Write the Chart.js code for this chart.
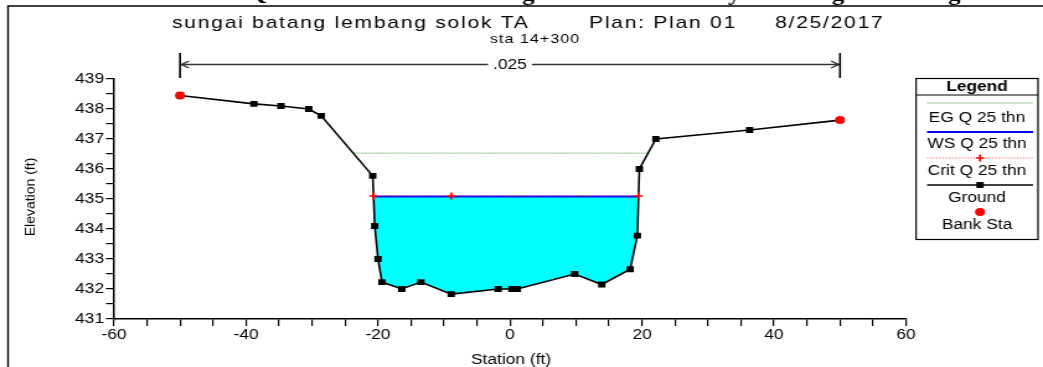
<!DOCTYPE html>
<html>
<head>
<meta charset="utf-8">
<script src="https://cdn.jsdelivr.net/npm/chart.js@4.4.1/dist/chart.umd.min.js"></script>
<style>
html,body{margin:0;padding:0;background:#fff;overflow:hidden}
#wrap{width:1043px;height:367px;overflow:hidden}
#c{display:block;transform:scaleX(1.2402);transform-origin:0 0}
</style>
</head>
<body>
<div id="wrap"><canvas id="c" width="841" height="367"></canvas></div>
<script>
// cross section sta 14+300
const groundSta = [-50, -38.8, -34.7, -30.5, -28.6, -20.8, -20.5, -20.0, -19.4, -16.4, -13.5, -8.9, -1.8, 0.3, 1.1, 9.8, 13.9, 18.2, 19.3, 19.6, 22.1, 36.3, 50.0]
const groundElev = [438.45, 438.17, 438.1, 438.0, 437.77, 435.77, 434.1, 433.0, 432.23, 432.0, 432.23, 431.83, 432.0, 432.0, 432.0, 432.5, 432.15, 432.66, 433.78, 436.0, 437.0, 437.3, 437.63]
const bankSta = [-50, 50]
const bankElev = [438.45, 437.63]
const egElev = 436.53
const wsElev = 435.08
const critElev = 435.1
const xTickLabels = [-60, -40, -20, 0, 20, 40, 60]
const yTickLabels = [431, 432, 433, 434, 435, 436, 437, 438, 439]
const manningN = ['.025']
const titleParts = ['sungai batang lembang solok TA', 'Plan: Plan 01', '8/25/2017']
const subTitle = 'sta 14+300'
const topGlyphs = ['Q', 'g', 'y', 'g', 'g']

// the reference picture is stretched sideways, so draw narrow and scale with css
const SX = 1043 / 841
const sx = v => v / SX

// where a level crosses the ground line
function crossings(elev){
    let out = []
    for(let i=0;i<groundSta.length-1;i++){
        let a = groundElev[i]-elev, b = groundElev[i+1]-elev
        if(a*b<0) out.push(groundSta[i]+(groundSta[i+1]-groundSta[i])*a/(a-b))
    }
    return out
}

const wsX = crossings(wsElev)
const egX = crossings(egElev)
const thalweg = groundSta[groundElev.indexOf(Math.min(...groundElev))]
const critX = [wsX[0], thalweg, wsX[wsX.length-1]]

const pts = (xs, ys) => xs.map((x,i)=>({x:x, y:Array.isArray(ys)?ys[i]:ys}))
const water = [{x:wsX[0], y:wsElev}]
    .concat(pts(groundSta, groundElev).filter(p => p.x>wsX[0] && p.x<wsX[1]))
    .concat([{x:wsX[1], y:wsElev}])

const FONT = '"Liberation Sans", Arial, sans-serif'

function drawMark(ctx, d, x, y){
    ctx.save()
    ctx.fillStyle = d.pointBackgroundColor || d.pointBorderColor || '#000'
    ctx.strokeStyle = d.pointBorderColor || '#000'
    ctx.lineWidth = d.pointBorderWidth || 0
    Chart.helpers.drawPoint(ctx, {pointStyle: d.pointStyle, radius: d.pointRadius, rotation: 0, borderWidth: d.pointBorderWidth || 0}, x, y)
    ctx.restore()
}

const decor = {
    id: 'decor',
    afterDraw(chart){
        const ctx = chart.ctx
        const xs = chart.scales.x
        ctx.save()
        // cut caption above the frame
        ctx.fillStyle = '#000'
        ctx.font = 'bold 20px "Liberation Serif", serif'
        ctx.textBaseline = 'alphabetic'
        ;[248, 522, 728, 832, 948].forEach((x,i)=>ctx.fillText(topGlyphs[i], sx(x), 0))

        // frame
        ctx.strokeStyle = '#000'
        ctx.lineWidth = 1.4
        ctx.beginPath()
        ctx.moveTo(sx(8), 367); ctx.lineTo(sx(8), 6); ctx.lineTo(841, 6)
        ctx.stroke()

        // title
        ctx.font = '17px '+FONT
        ctx.textAlign = 'left'
        ctx.letterSpacing = '1.4px'
        ctx.fillText(titleParts[0], sx(172), 28)
        ctx.fillText(titleParts[1], sx(589), 28)
        ctx.fillText(titleParts[2], sx(775), 28)
        ctx.font = '13px '+FONT
        ctx.letterSpacing = '0.8px'
        ctx.textAlign = 'center'
        ctx.fillText(subTitle, sx(535), 43)
        ctx.letterSpacing = '0px'

        // n value dimension line
        const xl = xs.getPixelForValue(bankSta[0]), xr = xs.getPixelForValue(bankSta[1])
        const yd = 64.5
        ctx.strokeStyle = '#333'
        ctx.lineWidth = 1.3
        ctx.beginPath()
        ctx.moveTo(xl, yd); ctx.lineTo(xr, yd)
        ctx.moveTo(xl+sx(9), yd-3.5); ctx.lineTo(xl+1, yd); ctx.lineTo(xl+sx(9), yd+3.5)
        ctx.moveTo(xr-sx(9), yd-3.5); ctx.lineTo(xr-1, yd); ctx.lineTo(xr-sx(9), yd+3.5)
        ctx.stroke()
        ctx.strokeStyle = '#000'
        ctx.lineWidth = 1.6
        ctx.beginPath()
        ctx.moveTo(xl, 53); ctx.lineTo(xl, 78)
        ctx.moveTo(xr, 53); ctx.lineTo(xr, 78)
        ctx.stroke()
        ctx.font = '14px '+FONT
        const xm = xs.getPixelForValue(0)
        const tw = ctx.measureText(manningN[0]).width
        ctx.fillStyle = '#fff'
        ctx.fillRect(xm-tw/2-4, yd-6, tw+8, 12)
        ctx.fillStyle = '#000'
        ctx.textBaseline = 'middle'
        ctx.fillText(manningN[0], xm, yd+0.5)

        // axis titles
        ctx.fillText('Station (ft)', sx(511), 360)
        ctx.save()
        ctx.translate(sx(30.5), 197)
        ctx.scale(1/SX, 1)
        ctx.rotate(-Math.PI/2)
        ctx.fillText('Elevation (ft)', 0, 0)
        ctx.restore()

        // legend box
        const bx1 = sx(916), bx2 = sx(1038), lx1 = sx(927), lx2 = sx(1033), mx = sx(980), tx = sx(977)
        ctx.strokeStyle = '#000'
        ctx.lineWidth = 1.2
        ctx.strokeRect(bx1, 78.5, bx2-bx1, 161)
        ctx.beginPath(); ctx.moveTo(bx1, 95); ctx.lineTo(bx2, 95); ctx.stroke()
        ctx.font = 'bold 14px '+FONT
        ctx.fillText('Legend', tx, 87)
        ctx.font = '14px '+FONT
        const ds = chart.data.datasets
        const byLabel = l => ds.find(d => d.label === l)
        const rows = [
            {d: byLabel('EG Q 25 thn'), ly: 103, ty: 118},
            {d: byLabel('WS Q 25 thn'), ly: 132, ty: 144.5},
            {d: byLabel('Crit Q 25 thn'), ly: 158, ty: 171},
            {d: byLabel('Ground'), ly: 185, ty: 198},
            {d: byLabel('Bank Sta'), ly: 212, ty: 225}
        ]
        rows.forEach(r => {
            const d = r.d
            if(d.showLine){
                ctx.save()
                ctx.strokeStyle = d.borderColor
                ctx.lineWidth = d.borderWidth
                ctx.setLineDash(d.borderDash || [])
                ctx.beginPath(); ctx.moveTo(lx1, r.ly); ctx.lineTo(lx2, r.ly); ctx.stroke()
                ctx.restore()
            }
            if(d.pointRadius > 0) drawMark(ctx, d, mx, r.ly)
            ctx.fillStyle = '#000'
            ctx.fillText(d.label, tx, r.ty)
        })
        ctx.restore()
    }
}

const tickFont = {family: FONT, size: 14}

new Chart(document.getElementById('c'), {
    type: 'scatter',
    data: {
        datasets: [
            {
                label: 'Bank Sta', data: pts(bankSta, bankElev), showLine: false,
                pointStyle: 'circle', pointRadius: 4, pointBackgroundColor: '#ff0000',
                pointBorderColor: '#ff0000', pointBorderWidth: 0, backgroundColor: '#ff0000', borderColor: '#ff0000', order: 0
            },
            {
                label: 'Crit Q 25 thn', data: pts(critX, critElev), showLine: true,
                borderColor: '#ff5050', borderWidth: 1, borderDash: [1, 1.5], pointStyle: 'cross',
                pointRadius: 3.4, pointBorderColor: '#ff0000', pointBorderWidth: 1.7, backgroundColor: '#ff0000', order: 1
            },
            {
                label: 'Ground', data: pts(groundSta, groundElev), showLine: true,
                borderColor: '#000', borderWidth: 1.6, pointStyle: 'rect', pointRadius: 4.2,
                pointBackgroundColor: '#000', pointBorderColor: '#000', pointBorderWidth: 0, backgroundColor: '#000', order: 2
            },
            {
                label: 'WS Q 25 thn', data: pts(wsX, wsElev), showLine: true,
                borderColor: '#0000ff', borderWidth: 2, pointRadius: 0, order: 3
            },
            {
                label: 'EG Q 25 thn', data: pts(egX, egElev), showLine: true,
                borderColor: '#3f9a3f', borderWidth: 1, borderDash: [1, 1], pointRadius: 0, order: 4
            },
            {
                label: 'water', data: water, showLine: true, borderWidth: 0, pointRadius: 0,
                backgroundColor: '#00ffff', fill: {value: wsElev}, order: 5
            }
        ]
    },
    options: {
        responsive: false,
        animation: false,
        devicePixelRatio: 1,
        layout: {padding: {top: 79, right: 841 - sx(906), left: 0, bottom: 0}},
        plugins: {legend: {display: false}, tooltip: {enabled: false}},
        scales: {
            x: {
                type: 'linear', min: -60, max: 60,
                afterFit: s => { s.height = 48 },
                border: {color: '#000', width: 1.5},
                grid: {drawOnChartArea: false, drawTicks: true, tickLength: 7, color: '#000', lineWidth: 1.2},
                ticks: {stepSize: 5, autoSkip: false, maxRotation: 0, color: '#000', font: tickFont, padding: 1,
                    callback: v => xTickLabels.includes(v) ? v : ''}
            },
            y: {
                type: 'linear', min: 431, max: 439,
                afterFit: s => { s.width = sx(114) },
                border: {color: '#000', width: 1.5},
                grid: {drawOnChartArea: false, drawTicks: true, tickLength: 6.5, color: '#000', lineWidth: 1.2},
                ticks: {stepSize: 0.5, autoSkip: false, color: '#000', font: tickFont, padding: 1.5,
                    callback: v => yTickLabels.includes(v) ? v : ''}
            }
        }
    },
    plugins: [decor]
})
</script>
</body>
</html>
